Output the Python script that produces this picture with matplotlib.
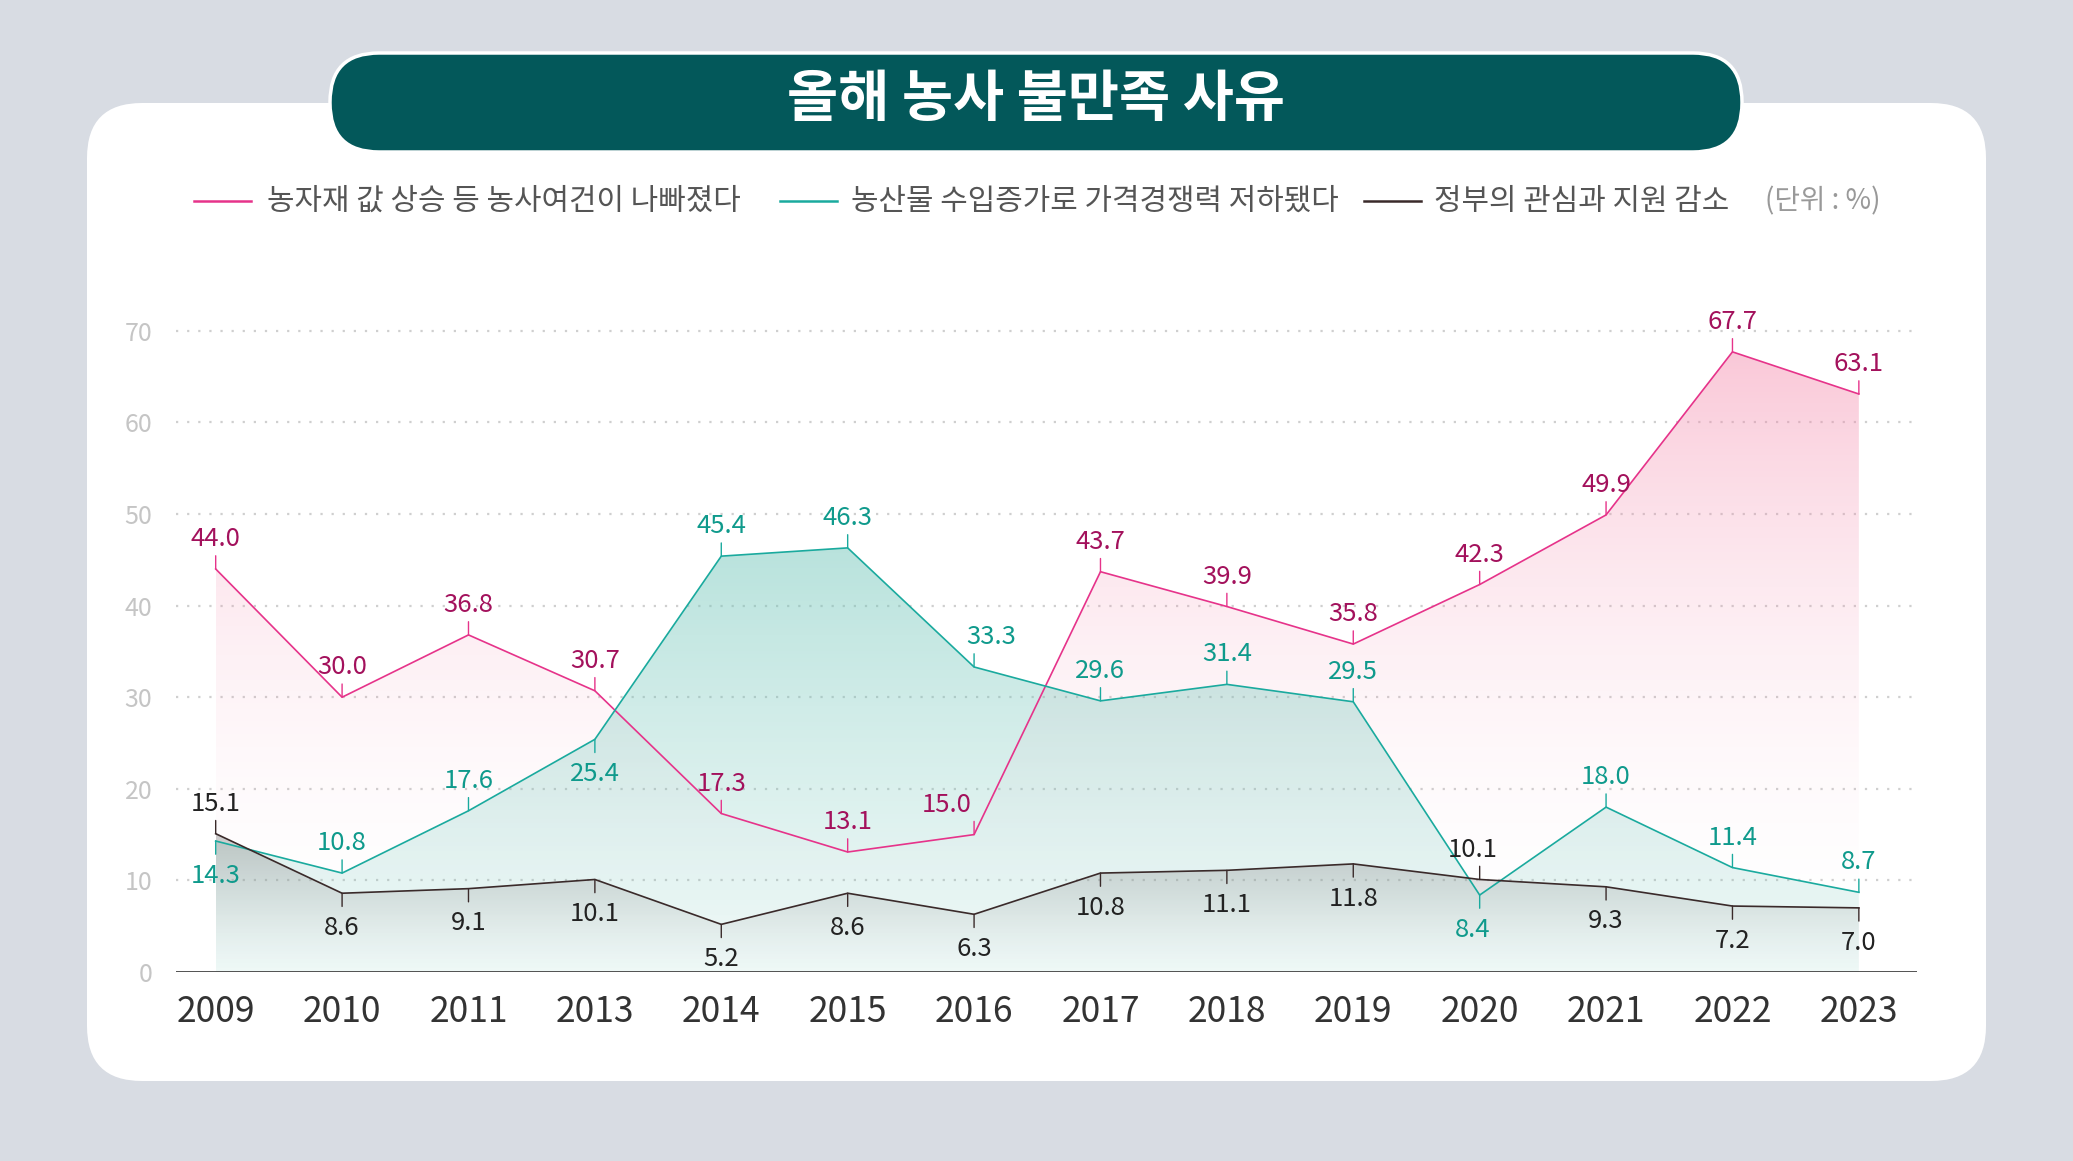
import numpy as np
import matplotlib.pyplot as plt
from matplotlib.patches import FancyBboxPatch
from matplotlib.lines import Line2D

plt.rcParams['font.family'] = ['Noto Sans CJK KR', 'DejaVu Sans']

# data
years = ['2009', '2010', '2011', '2013', '2014', '2015', '2016',
         '2017', '2018', '2019', '2020', '2021', '2022', '2023']
input_cost = [44.0, 30.0, 36.8, 30.7, 17.3, 13.1, 15.0, 43.7, 39.9, 35.8, 42.3, 49.9, 67.7, 63.1]
import_comp = [14.3, 10.8, 17.6, 25.4, 45.4, 46.3, 33.3, 29.6, 31.4, 29.5, 8.4, 18.0, 11.4, 8.7]
gov_support = [15.1, 8.6, 9.1, 10.1, 5.2, 8.6, 6.3, 10.8, 11.1, 11.8, 10.1, 9.3, 7.2, 7.0]
series_names = ['농자재 값 상승 등 농사여건이 나빠졌다',
                '농산물 수입증가로 가격경쟁력 저하됐다',
                '정부의 관심과 지원 감소']
title = '올해 농사 불만족 사유'
unit = '(단위 : %)'

# label side: 1 above, -1 below
input_side = [1] * 14
import_side = [-1, 1, 1, -1, 1, 1, 1, 1, 1, 1, -1, 1, 1, 1]
gov_side = [1, -1, -1, -1, -1, -1, -1, -1, -1, -1, 1, -1, -1, -1]

W, H = 2073, 1161
fig = plt.figure(figsize=(W / 100, H / 100), dpi=100)
fig.patch.set_facecolor('#d8dce3')

# background panel, title, legend (pixel coords)
bg = fig.add_axes([0, 0, 1, 1])
bg.set_xlim(0, W)
bg.set_ylim(H, 0)
bg.axis('off')
bg.add_patch(FancyBboxPatch((87, 103), 1899, 978, boxstyle='round,pad=0,rounding_size=55',
                            fc='white', ec='none'))
bg.add_patch(FancyBboxPatch((330, 53), 1412, 99, boxstyle='round,pad=0,rounding_size=49',
                            fc='#03585a', ec='white', lw=2.5))
bg.text(1036, 100, title, color='white', fontsize=40, fontweight='heavy',
        ha='center', va='center')

pink, teal, dark = '#e6338a', '#1aaa9e', '#3a2a2a'
leg = [(194, 267, pink), (780, 851, teal), (1364, 1434, dark)]
for (lx, tx, c), name in zip(leg, series_names):
    bg.add_line(Line2D([lx, lx + 57], [201, 201], color=c, lw=1.8))
    bg.text(tx, 201, name, color='#555555', fontsize=21.5, fontweight='medium',
            va='center', ha='left')
bg.text(1765, 201, unit, color='#999999', fontsize=20, va='center', ha='left')

# chart
ax = fig.add_axes([176 / W, 1 - 972 / H, (1917 - 176) / W, (972 - 285) / H])
ax.patch.set_alpha(0)
x = np.arange(len(years))
ax.set_xlim(-0.314, 13.46)
ax.set_ylim(0, 75)

for yv in range(10, 80, 10):
    ax.axhline(yv, color='#cfcfcf', lw=1.6, ls=(0, (1, 4)), zorder=0)
ax.axhline(0, color='#444444', lw=1.3, zorder=6)


def grad_fill(vals, rgb, a_top, a_bot, power, z):
    poly = ax.fill_between(x, vals, 0, facecolor='none', edgecolor='none')
    top = max(vals)
    g = np.zeros((256, 1, 4))
    g[:, 0, :3] = rgb
    g[:, 0, 3] = a_bot + (a_top - a_bot) * np.linspace(0, 1, 256) ** power
    im = ax.imshow(g, extent=[x[0], x[-1], 0, top], origin='lower', aspect='auto',
                   zorder=z, interpolation='bilinear')
    im.set_clip_path(poly.get_paths()[0], transform=ax.transData)


grad_fill(input_cost, (0.96, 0.55, 0.68), 0.48, 0.0, 2.0, 1)
grad_fill(import_comp, (0.45, 0.78, 0.73), 0.5, 0.12, 1.2, 2)
grad_fill(gov_support, (0.55, 0.55, 0.55), 0.45, 0.0, 1.3, 3)

ax.set_xticks(x)
ax.set_xticklabels(years, fontsize=25.5, color='#333333', fontweight='medium')
ax.set_yticks(range(0, 80, 10))
ax.set_yticklabels([str(v) for v in range(0, 80, 10)], fontsize=18, color='#c5c5c5')
ax.tick_params(axis='x', length=0, pad=16)
ax.tick_params(axis='y', length=0, pad=17)
for s in ax.spines.values():
    s.set_visible(False)

specs = [
    (input_cost, input_side, pink, '#a3115c', {6: -20}),
    (import_comp, import_side, teal, '#0f9a8c', {6: 12, 10: -5}),
    (gov_support, gov_side, dark, '#222222', {10: -5}),
]
for vals, side, lc, tc, dxs in specs:
    ax.plot(x, vals, color=lc, lw=1.2, zorder=5)
    for i, (xi, v) in enumerate(zip(x, vals)):
        sd = side[i]
        ax.annotate('', xy=(xi, v), xytext=(0, 9.5 * sd), textcoords='offset points',
                    arrowprops=dict(arrowstyle='-', color=lc, lw=1.0, shrinkA=0, shrinkB=0),
                    zorder=5)
        dy = 16.5 if sd > 0 else -30
        ax.annotate(f'{v:.1f}', xy=(xi, v), xytext=(dxs.get(i, 0), dy),
                    textcoords='offset points', ha='center', va='baseline',
                    fontsize=18.5, fontweight='medium', color=tc, zorder=7)

fig.savefig('out.png', dpi=100, facecolor=fig.get_facecolor())
